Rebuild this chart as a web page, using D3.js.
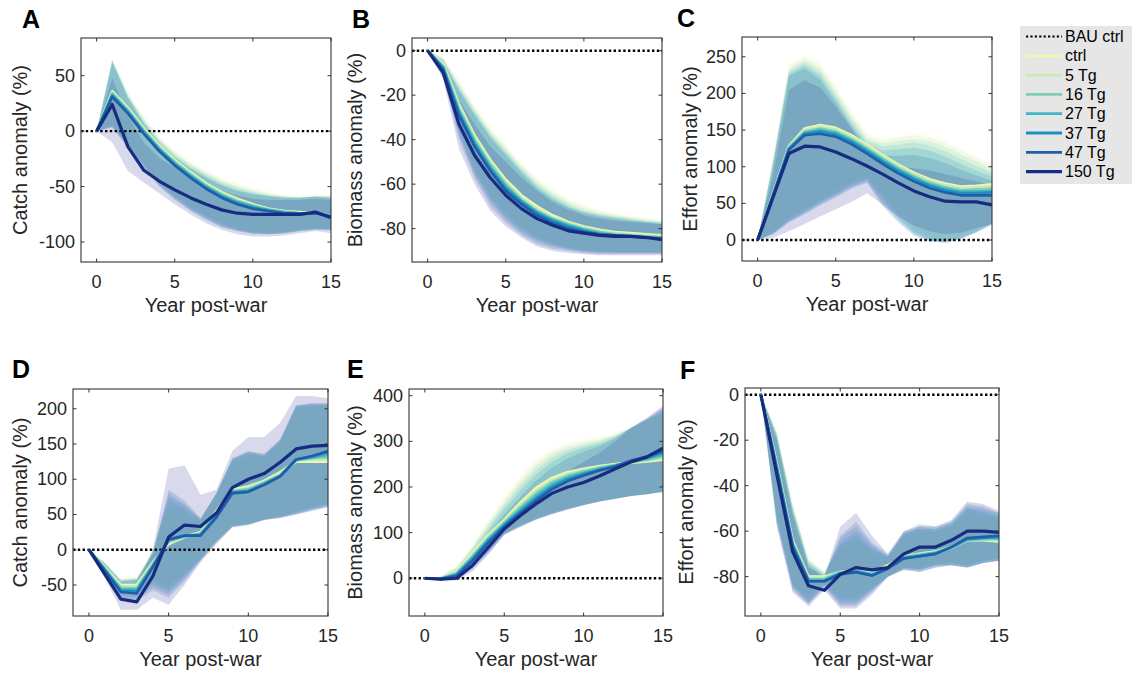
<!DOCTYPE html>
<html><head><meta charset="utf-8">
<script src="https://cdn.jsdelivr.net/npm/d3@7"></script>
<style>body{margin:0;background:#fff}svg{display:block}text{font-family:"Liberation Sans",Arial,Helvetica,sans-serif;fill:#262626}</style>
</head><body><div id="chart"></div>
<script>
// ---------- data ----------
const years = [0,1,2,3,4,5,6,7,8,9,10,11,12,13,14,15];
const seriesNames = ["ctrl","5 Tg","16 Tg","27 Tg","37 Tg","47 Tg","150 Tg"];
const seriesColors = ["#edf8b1","#c7e9b4","#7fcdbb","#41b6c4","#1d91c0","#225ea8","#172c80"];
const bandColors = ["#edf8b1","#c7e9b4","#7fcdbb","#41b6c4","#1d91c0","#225ea8","#253494"];
const baselineName = "BAU ctrl";
const xTicks = [0,5,10,15];

// Panel A: Catch anomaly (%)
const catchA_mean = [
 [0,36,21,3,-13,-26,-37,-47,-55,-61,-66,-70,-72,-73,-74,-77],
 [0,35,20,2,-14,-27,-38,-48,-56,-62,-67,-70,-72,-74,-74,-77],
 [0,34,19,1,-15,-28,-39,-49,-57,-63,-67,-71,-73,-74,-74,-77],
 [0,33,18,0,-16,-29,-40,-50,-58,-64,-68,-71,-73,-74,-74,-77],
 [0,32,17,-1,-17,-30,-41,-51,-59,-65,-69,-72,-74,-74,-74,-77],
 [0,31,16,-2,-18,-31,-42,-52,-60,-66,-70,-72,-74,-75,-74,-77],
 [0,24,-14,-35,-45,-53,-60,-66,-71,-74,-75,-75,-75,-75,-73,-78]];
const catchA_hi = [
 [0,64,36,14,-4,-17,-27,-35,-42,-47,-51,-54,-57,-58,-57,-58],
 [0,65,35,13,-5,-18,-28,-36,-43,-48,-52,-55,-58,-59,-58,-58],
 [0,65,33,11,-7,-20,-30,-38,-45,-50,-54,-57,-59,-60,-59,-59],
 [0,64,32,10,-8,-21,-31,-39,-46,-51,-55,-58,-59,-60,-59,-59],
 [0,63,31,8,-10,-23,-33,-41,-48,-53,-56,-58,-60,-60,-59,-60],
 [0,62,30,7,-11,-24,-34,-42,-49,-54,-57,-59,-60,-60,-59,-60],
 [0,48,14,-10,-24,-33,-41,-48,-54,-58,-61,-62,-62,-62,-61,-62]];
const catchA_lo = [
 [0,6,-10,-28,-45,-57,-67,-75,-82,-87,-90,-91,-90,-88,-87,-88],
 [0,5,-11,-29,-46,-58,-68,-76,-83,-88,-91,-92,-91,-89,-88,-88],
 [0,5,-12,-30,-47,-59,-69,-77,-84,-89,-91,-92,-91,-89,-88,-89],
 [0,4,-13,-31,-48,-60,-70,-78,-85,-89,-92,-93,-92,-90,-88,-89],
 [0,4,-14,-32,-49,-61,-71,-79,-86,-90,-92,-93,-92,-90,-89,-89],
 [0,3,-15,-33,-50,-62,-72,-80,-87,-90,-93,-93,-92,-90,-89,-89],
 [0,-10,-36,-46,-56,-66,-75,-83,-89,-93,-95,-95,-94,-92,-90,-92]];

// Panel B: Biomass anomaly (%)
const biomassB_mean = [
 [0,-6,-24,-38,-49,-58,-65,-70,-74,-77,-79,-80.5,-81.5,-82,-82.5,-83],
 [0,-6.5,-25,-39,-50,-59,-66,-71,-75,-77.5,-79.5,-81,-82,-82.5,-83,-83.5],
 [0,-7,-26,-40,-51,-60,-67,-72,-75.5,-78,-80,-81.5,-82.5,-83,-83.5,-84],
 [0,-7.5,-27,-41,-52,-61,-67.5,-72.5,-76,-78.5,-80.5,-82,-83,-83.5,-84,-84],
 [0,-8,-28,-42,-53,-62,-68,-73,-76.5,-79,-81,-82.5,-83,-83.5,-84,-84.5],
 [0,-8.5,-29,-43,-54,-63,-69,-74,-77.5,-80,-81.5,-82.5,-83,-83.5,-84,-84.5],
 [0,-10,-33,-47,-57,-65,-71,-75.5,-78.5,-81,-82,-83,-83.5,-83.5,-84,-85]];
const biomassB_hi = [
 [0,-3,-13,-24,-34,-42,-50,-57,-62,-66,-69,-71.5,-73,-74,-75,-76],
 [0,-3,-14,-25,-35,-43,-51,-58,-63,-67,-70,-72,-73.5,-74.5,-75.5,-76.5],
 [0,-3.5,-15,-26,-36,-44,-52,-59,-64,-68,-71,-73,-74,-75,-76,-77],
 [0,-4,-16,-27,-37,-45,-53,-60,-65,-69,-72,-73.5,-74.5,-75.5,-76.5,-77],
 [0,-4.5,-17,-28,-38,-46,-54,-61,-66,-70,-72.5,-74,-75,-76,-77,-77.5],
 [0,-5,-18,-29,-39,-47,-55,-62,-67,-70.5,-73,-74.5,-75.5,-76.5,-77,-78],
 [0,-6,-22,-33,-43,-50,-57,-63,-68,-71.5,-74,-75.5,-76.5,-77,-77.5,-78]];
const biomassB_lo = [
 [0,-9,-33,-52,-64,-72,-78,-83,-86,-88,-89.5,-90,-90,-90,-90,-90],
 [0,-9.5,-34,-53,-65,-73,-79,-84,-86.5,-88.5,-89.5,-90,-90.5,-90.5,-90.5,-90.5],
 [0,-10,-36,-54,-66,-74,-80,-84.5,-87,-89,-90,-90.5,-90.5,-90.5,-90.5,-90.5],
 [0,-10.5,-37,-55,-67,-75,-81,-85,-87.5,-89,-90,-90.5,-91,-91,-91,-91],
 [0,-11,-38,-56,-68,-76,-82,-86,-88,-89.5,-90.5,-91,-91,-91,-91,-91],
 [0,-12,-40,-57.5,-70,-77.5,-83,-87,-89,-90,-91,-91.5,-91.5,-91.5,-91.5,-91.5],
 [0,-13,-44,-60,-72,-79,-84,-88,-90,-91,-91.5,-92,-92,-92,-92,-92]];

// Panel C: Effort anomaly (%)
const effortC_mean = [
 [0,64,128,152,157,153,143,130,116,103,92,83,77,73,74,76],
 [0,63,127,150,155,151,141,128,114,101,90,81,75,71,72,73],
 [0,63,126,148,152,148,138,125,111,98,87,78,72,68,69,70],
 [0,62,125,146,150,146,136,123,109,96,85,76,70,66,66,67],
 [0,62,124,145,148,144,134,121,107,94,83,74,68,64,64,65],
 [0,61,123,143,145,141,131,118,104,91,80,71,65,61,61,61],
 [0,59,118,128,127,120,111,101,90,78,67,59,53,52,52,48]];
const effortC_hi = [
 [0,115,240,252,242,212,178,146,138,142,146,143,135,125,115,106],
 [0,113,237,250,239,208,174,143,136,140,143,140,132,122,112,102],
 [0,110,233,246,234,203,169,139,132,135,138,135,127,117,107,97],
 [0,108,230,242,229,198,164,135,128,130,133,129,121,111,101,92],
 [0,106,227,238,224,193,159,131,122,124,126,122,114,104,95,87],
 [0,104,224,234,219,188,155,127,115,115,116,112,105,96,88,81],
 [0,90,205,218,208,182,152,122,106,100,98,95,90,85,80,75]];
const effortC_lo = [
 [0,12,30,44,57,68,80,88,65,40,18,5,0,5,14,25],
 [0,11,29,42,55,66,78,86,62,37,15,3,-1,4,13,24],
 [0,10,28,40,53,64,76,84,58,33,12,1,-2,3,12,23],
 [0,9,26,38,51,62,74,82,54,30,10,0,-3,2,11,22],
 [0,9,25,37,49,60,72,80,50,27,8,-1,-3,2,11,22],
 [0,8,24,35,47,58,70,78,46,24,6,-2,-4,1,10,21],
 [0,3,12,22,32,42,52,64,48,32,20,12,8,10,16,22]];

// Panel D: Catch anomaly (%)
const catchD_mean = [
 [0,-25,-50,-50,-18,8,18,25,55,85,90,98,110,125,125,125],
 [0,-26,-52,-52,-20,10,18,24,52,84,88,97,108,126,128,128],
 [0,-27,-54,-55,-21,12,19,23,50,83,86,95,106,127,130,132],
 [0,-28,-56,-57,-23,13,19,22,48,82,84,94,105,128,131,135],
 [0,-29,-58,-59,-24,14,20,21,47,81,83,93,104,128,132,138],
 [0,-30,-60,-62,-25,15,20,20,46,80,82,92,104,128,133,140],
 [0,-35,-70,-74,-38,18,35,33,52,88,100,108,124,143,147,148]];
const catchD_hi = [
 [0,-18,-40,-38,0,60,50,40,80,125,130,130,150,200,200,200],
 [0,-18,-41,-39,-2,65,55,40,80,125,135,132,152,202,203,203],
 [0,-19,-42,-40,-3,70,58,42,80,127,137,133,153,203,205,205],
 [0,-19,-43,-41,-4,75,62,43,80,128,138,134,155,204,206,206],
 [0,-20,-44,-42,-5,80,65,44,80,129,139,135,156,205,207,207],
 [0,-20,-45,-43,-6,85,70,45,80,130,140,136,157,205,208,208],
 [0,-22,-52,-50,0,115,120,78,85,140,160,160,180,218,218,215]];
const catchD_lo = [
 [0,-30,-60,-58,-40,-50,-30,-10,15,35,38,45,48,55,62,68],
 [0,-31,-62,-61,-43,-53,-33,-12,14,34,37,44,48,54,60,66],
 [0,-32,-64,-64,-46,-56,-36,-13,13,34,37,43,47,53,59,65],
 [0,-33,-66,-67,-50,-60,-39,-14,12,33,36,43,46,52,58,63],
 [0,-34,-68,-70,-54,-64,-42,-15,11,33,36,42,46,51,57,62],
 [0,-35,-70,-73,-58,-68,-45,-16,10,32,35,42,45,50,56,61],
 [0,-40,-85,-85,-68,-78,-50,-18,8,32,35,42,45,50,55,60]];

// Panel E: Biomass anomaly (%)
const biomassE_mean = [
 [0,0,15,55,95,128,165,198,220,233,240,246,250,253,256,260],
 [0,0,13,52,92,125,160,192,215,229,237,244,249,254,258,263],
 [0,-1,11,48,88,122,155,186,210,225,234,242,248,255,260,267],
 [0,-1,9,45,85,119,150,180,205,221,231,240,247,256,262,271],
 [0,-1,7,42,82,116,146,175,200,217,228,238,246,257,264,275],
 [0,-2,5,38,78,113,142,170,195,213,225,236,245,258,267,279],
 [0,-2,0,28,68,108,137,163,186,200,210,224,240,255,266,285]];
const biomassE_hi = [
 [0,5,28,75,130,180,225,262,285,298,305,310,318,330,345,360],
 [0,4,26,72,125,174,218,255,279,293,301,307,316,330,346,362],
 [0,4,24,68,119,167,210,247,272,287,296,303,314,330,347,365],
 [0,3,21,64,113,160,202,238,264,281,291,299,312,330,348,368],
 [0,3,18,59,106,151,192,228,255,274,286,294,309,330,349,371],
 [0,2,15,53,98,140,178,214,242,263,278,290,306,330,350,374],
 [0,2,12,45,88,125,150,185,215,235,255,275,300,330,352,378]];
const biomassE_lo = [
 [0,-5,5,35,65,100,118,132,145,155,162,170,175,180,185,188],
 [0,-5,4,33,63,99,117,131,144,154,162,169,175,180,185,188],
 [0,-5,3,30,61,98,116,130,143,153,161,169,174,180,184,189],
 [0,-5,2,27,59,97,115,130,142,152,161,168,174,180,184,189],
 [0,-5,1,24,57,96,114,129,141,151,160,168,174,180,184,189],
 [0,-5,-2,20,55,96,113,129,141,151,160,168,174,180,184,190],
 [0,-5,-5,15,52,95,112,128,140,150,160,168,174,180,184,190]];

// Panel F: Effort anomaly (%)
const effortF_mean = [
 [0,-30,-64,-80,-80,-78,-77,-78,-75,-71,-70,-69,-67,-64,-64,-64.5],
 [0,-31,-65,-80.5,-80.5,-78,-77,-78.5,-75.5,-71,-70,-69,-67,-64,-63.5,-64],
 [0,-31,-65,-81,-81,-78,-77.5,-79,-76,-71.5,-70.5,-69.5,-67.5,-64,-63.5,-63.5],
 [0,-32,-66,-81.5,-81.5,-78.5,-77.5,-79,-76,-71.5,-70.5,-69.5,-67,-63.5,-63,-63],
 [0,-32,-66,-82,-82,-78.5,-78,-79.5,-76,-72,-71,-70,-67,-63.5,-63,-62.5],
 [0,-33,-67,-82,-82,-79,-78,-79.5,-76.5,-72,-71,-70,-67,-63,-62.5,-62],
 [0,-35,-69,-84,-86,-79,-76,-77,-76,-70,-67,-67,-64,-60,-60,-60.5]];
const effortF_hi = [
 [0,-16,-48,-72,-78,-68,-64,-70,-72,-62,-60,-61,-58,-52,-54,-55],
 [0,-16,-48,-72,-78,-67,-63,-69,-72,-62,-60,-60,-58,-51,-53,-54],
 [0,-17,-49,-73,-78,-66,-62,-68,-71,-61,-59,-60,-57,-50,-52,-54],
 [0,-17,-49,-73,-79,-65,-60,-67,-71,-61,-59,-59,-57,-50,-51,-53],
 [0,-18,-50,-74,-79,-63,-58,-66,-71,-61,-58,-59,-56,-49,-50,-52],
 [0,-18,-51,-75,-80,-62,-56,-65,-70,-60,-58,-58,-56,-48,-49,-52],
 [0,-20,-53,-76,-80,-58,-52,-62,-70,-60,-57,-58,-55,-47,-48,-51]];
const effortF_lo = [
 [0,-52,-82,-88,-82,-88,-88,-84,-80,-76,-76,-74,-74,-75,-73,-72],
 [0,-53,-83,-89,-83,-89,-89,-85,-80,-76,-76,-74,-74,-75,-73,-72],
 [0,-54,-84,-90,-83,-90,-90,-85,-80,-76,-77,-75,-74,-75,-73,-72],
 [0,-55,-84,-91,-84,-91,-91,-86,-80,-76,-77,-75,-75,-76,-74,-73],
 [0,-56,-85,-92,-84,-92,-92,-86,-80,-77,-77,-75,-75,-76,-74,-73],
 [0,-57,-86,-92,-85,-93,-93,-87,-80,-77,-78,-76,-75,-76,-74,-73],
 [0,-58,-87,-93,-86,-94,-94,-88,-80,-77,-78,-76,-75,-76,-74,-73]];

const yTicksA = [-100,-50,0,50];
const yTicksB = [-80,-60,-40,-20,0];
const yTicksC = [0,50,100,150,200,250];
const yTicksD = [-50,0,50,100,150,200];
const yTicksE = [0,100,200,300,400];
const yTicksF = [-80,-60,-40,-20,0];

// ---------- layout ----------
const W = 1132, H = 676;
const svg = d3.select("#chart").append("svg").attr("width", W).attr("height", H);
svg.append("rect").attr("width", W).attr("height", H).attr("fill", "#fff");

const panels = [
 {letter:"A", ylabel:"Catch anomaly (%)", mean:catchA_mean, lo:catchA_lo, hi:catchA_hi, ticks:yTicksA,
  box:[81,331,38,262], yd:[-118,84], lx:22, ly:28, tx:20},
 {letter:"B", ylabel:"Biomass anomaly (%)", mean:biomassB_mean, lo:biomassB_lo, hi:biomassB_hi, ticks:yTicksB,
  box:[412,662,38,262], yd:[-95,5.7], lx:352, ly:28, tx:355},
 {letter:"C", ylabel:"Effort anomaly (%)", mean:effortC_mean, lo:effortC_lo, hi:effortC_hi, ticks:yTicksC,
  box:[742,992,37,261], yd:[-28.6,277], lx:677, ly:27, tx:690},
 {letter:"D", ylabel:"Catch anomaly (%)", mean:catchD_mean, lo:catchD_lo, hi:catchD_hi, ticks:yTicksD,
  box:[73,328,389,616], yd:[-94,228], lx:12, ly:378, tx:20},
 {letter:"E", ylabel:"Biomass anomaly (%)", mean:biomassE_mean, lo:biomassE_lo, hi:biomassE_hi, ticks:yTicksE,
  box:[409,663,389,616], yd:[-82.7,414.7], lx:347, ly:378, tx:355},
 {letter:"F", ylabel:"Effort anomaly (%)", mean:effortF_mean, lo:effortF_lo, hi:effortF_hi, ticks:yTicksF,
  box:[745,999,388,616], yd:[-97.3,2.95], lx:680, ly:379, tx:686}
];

panels.forEach((p, pi) => {
  const [L, R, T, B] = p.box;
  const x = d3.scaleLinear().domain([-1, 15]).range([L, R]);
  const y = d3.scaleLinear().domain(p.yd).range([B, T]);
  const g = svg.append("g");
  const cid = "clip" + pi;
  svg.append("clipPath").attr("id", cid).append("rect").attr("x", L).attr("y", T).attr("width", R - L).attr("height", B - T);
  const plot = g.append("g").attr("clip-path", `url(#${cid})`);

  const area = d3.area().x((d, i) => x(years[i])).y0(d => y(d[0])).y1(d => y(d[1]));
  seriesNames.forEach((s, si) => {
    const pts = years.map((yr, i) => [p.lo[si][i], p.hi[si][i]]);
    plot.append("path").attr("d", area(pts)).attr("fill", bandColors[si]).attr("fill-opacity", 0.18).attr("stroke", "none");
  });
  // baseline
  plot.append("line").attr("x1", L).attr("x2", R).attr("y1", y(0)).attr("y2", y(0))
    .attr("stroke", "#000").attr("stroke-width", 2.4).attr("stroke-dasharray", "2.4,2.4");
  const line = d3.line().x((d, i) => x(years[i])).y(d => y(d));
  seriesNames.forEach((s, si) => {
    plot.append("path").attr("d", line(p.mean[si])).attr("fill", "none")
      .attr("stroke", seriesColors[si]).attr("stroke-width", si === 6 ? 3.2 : 2.6)
      .attr("stroke-linejoin", "round");
  });

  // axes
  const ax = g.append("g");
  ax.append("rect").attr("x", L).attr("y", T).attr("width", R - L).attr("height", B - T)
    .attr("fill", "none").attr("stroke", "#333").attr("stroke-width", 1.1);
  const tl = 3.5;
  xTicks.forEach(t => {
    ax.append("line").attr("x1", x(t)).attr("x2", x(t)).attr("y1", B).attr("y2", B - tl).attr("stroke", "#333");
    ax.append("line").attr("x1", x(t)).attr("x2", x(t)).attr("y1", T).attr("y2", T + tl).attr("stroke", "#333");
    ax.append("text").attr("x", x(t)).attr("y", B + 20).attr("text-anchor", "middle")
      .attr("dominant-baseline", "central").attr("font-size", 18).text(t);
  });
  p.ticks.forEach(t => {
    ax.append("line").attr("x1", L).attr("x2", L + tl).attr("y1", y(t)).attr("y2", y(t)).attr("stroke", "#333");
    ax.append("line").attr("x1", R).attr("x2", R - tl).attr("y1", y(t)).attr("y2", y(t)).attr("stroke", "#333");
    ax.append("text").attr("x", L - 6).attr("y", y(t)).attr("text-anchor", "end")
      .attr("dominant-baseline", "central").attr("font-size", 18).text(t);
  });
  ax.append("text").attr("x", (L + R) / 2).attr("y", B + 43).attr("text-anchor", "middle")
    .attr("dominant-baseline", "central").attr("font-size", 20).text("Year post-war");
  ax.append("text").attr("transform", `translate(${p.tx},${(T + B) / 2}) rotate(-90)`)
    .attr("text-anchor", "middle").attr("dominant-baseline", "central").attr("font-size", 20).text(p.ylabel);
  ax.append("text").attr("x", p.lx).attr("y", p.ly).attr("font-size", 25).attr("font-weight", "bold")
    .style("fill", "#000").text(p.letter);
});

// legend
const lg = svg.append("g");
lg.append("rect").attr("x", 1020).attr("y", 26).attr("width", 112).attr("height", 158).attr("fill", "#e6e6e6");
const ly0 = 36.5, ldy = 19.3;
lg.append("line").attr("x1", 1026).attr("x2", 1062).attr("y1", ly0).attr("y2", ly0)
  .attr("stroke", "#000").attr("stroke-width", 2.2).attr("stroke-dasharray", "2.2,2.2");
lg.append("text").attr("x", 1065).attr("y", ly0).attr("dominant-baseline", "central").attr("font-size", 16).style("fill", "#000").text(baselineName);
seriesNames.forEach((s, i) => {
  const yy = ly0 + ldy * (i + 1);
  lg.append("line").attr("x1", 1026).attr("x2", 1062).attr("y1", yy).attr("y2", yy)
    .attr("stroke", seriesColors[i]).attr("stroke-width", i === 6 ? 3.2 : 2.8);
  lg.append("text").attr("x", 1065).attr("y", yy).attr("dominant-baseline", "central").attr("font-size", 16).style("fill", "#000").text(s);
});
</script></body></html>
